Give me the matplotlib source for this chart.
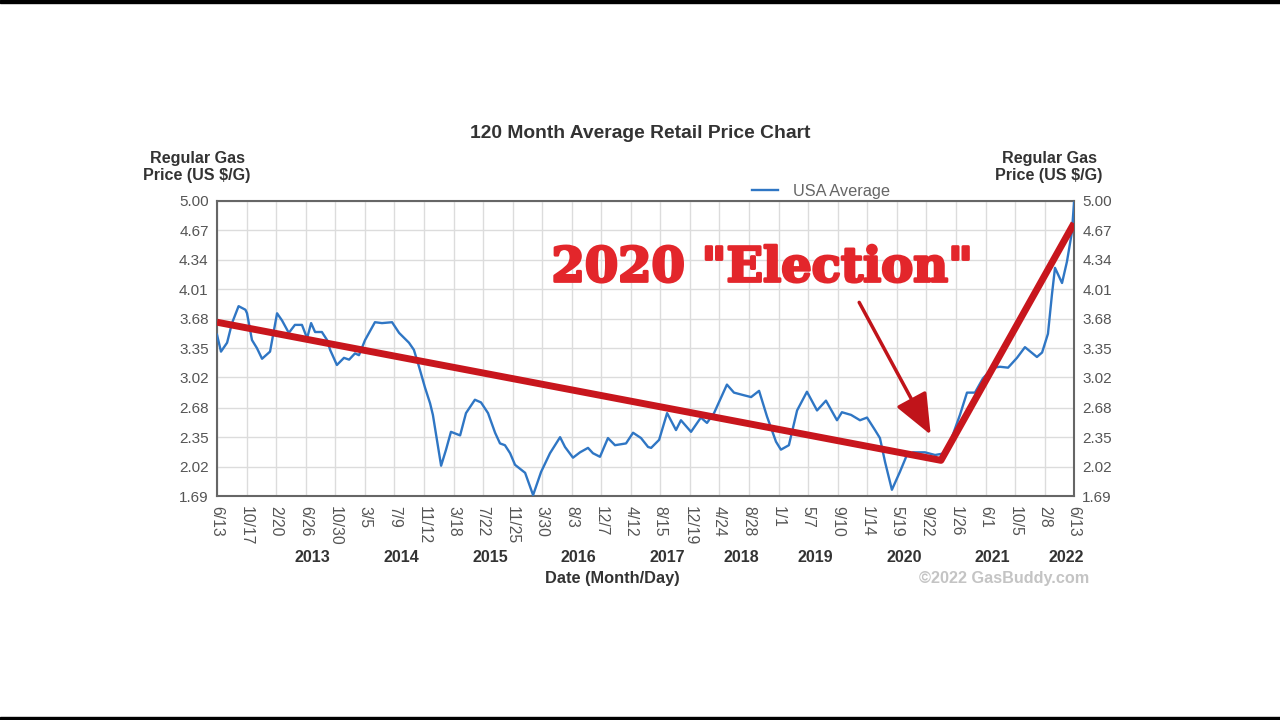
import numpy as np
import matplotlib
matplotlib.use('Agg')
import matplotlib.pyplot as plt
import matplotlib.dates as mdates
import matplotlib.patheffects as pe
from matplotlib.patches import Rectangle, FancyArrowPatch

plt.rcParams['font.family'] = ['Liberation Sans', 'DejaVu Sans']

# USA average regular gas price
dates = ['2012-06-13', '2012-06-30', '2012-07-26', '2012-08-16', '2012-09-13', '2012-10-12',
         '2012-10-19', '2012-11-09', '2012-11-30', '2012-12-22', '2013-01-25', '2013-02-24',
         '2013-03-17', '2013-04-15', '2013-05-11', '2013-06-10', '2013-07-02', '2013-07-19',
         '2013-08-05', '2013-09-03', '2013-09-25', '2013-10-08', '2013-11-06', '2013-12-06',
         '2013-12-28', '2014-01-22', '2014-02-08', '2014-03-06', '2014-04-17', '2014-05-17',
         '2014-06-29', '2014-07-29', '2014-09-09', '2014-09-30', '2014-10-22', '2014-11-16',
         '2014-12-08', '2014-12-20', '2015-01-24', '2015-02-14', '2015-03-07', '2015-04-15',
         '2015-05-10', '2015-06-17', '2015-07-13', '2015-08-12', '2015-09-11', '2015-10-02',
         '2015-10-23', '2015-11-14', '2015-12-05', '2016-01-17', '2016-02-20', '2016-03-25',
         '2016-05-02', '2016-06-14', '2016-07-05', '2016-08-08', '2016-09-07', '2016-10-11',
         '2016-11-01', '2016-12-01', '2017-01-04', '2017-02-03', '2017-03-22', '2017-04-21',
         '2017-05-25', '2017-06-24', '2017-07-07', '2017-08-10', '2017-09-13', '2017-10-21',
         '2017-11-11', '2017-12-24', '2018-02-04', '2018-03-02', '2018-04-01', '2018-05-26',
         '2018-06-25', '2018-08-07', '2018-09-06', '2018-10-10', '2018-11-13', '2018-12-21',
         '2019-01-11', '2019-02-14', '2019-03-21', '2019-05-02', '2019-06-14', '2019-07-22',
         '2019-09-07', '2019-09-28', '2019-11-06', '2019-12-14', '2020-01-13', '2020-02-16',
         '2020-03-08', '2020-03-30', '2020-04-28', '2020-06-01', '2020-07-01', '2020-07-27',
         '2020-09-16', '2020-10-29', '2020-12-10', '2021-01-09', '2021-02-12', '2021-03-14',
         '2021-04-17', '2021-05-21', '2021-07-03', '2021-08-02', '2021-09-05', '2021-10-13',
         '2021-11-16', '2022-01-06', '2022-01-28', '2022-02-22', '2022-03-11', '2022-03-24',
         '2022-04-23', '2022-05-14', '2022-06-04', '2022-06-13']
prices = [3.50, 3.31, 3.41, 3.63, 3.82, 3.78,
          3.74, 3.44, 3.35, 3.23, 3.31, 3.74,
          3.66, 3.52, 3.61, 3.61, 3.46, 3.63,
          3.53, 3.53, 3.44, 3.33, 3.16, 3.24,
          3.22, 3.29, 3.27, 3.44, 3.64, 3.63,
          3.64, 3.52, 3.41, 3.33, 3.14, 2.91,
          2.73, 2.60, 2.03, 2.21, 2.41, 2.37,
          2.62, 2.77, 2.74, 2.62, 2.40, 2.28,
          2.26, 2.17, 2.04, 1.95, 1.70, 1.96,
          2.17, 2.35, 2.24, 2.12, 2.18, 2.23,
          2.17, 2.13, 2.34, 2.26, 2.28, 2.40,
          2.34, 2.24, 2.23, 2.32, 2.62, 2.43,
          2.54, 2.41, 2.57, 2.51, 2.62, 2.94,
          2.85, 2.82, 2.80, 2.87, 2.58, 2.30,
          2.21, 2.26, 2.65, 2.86, 2.65, 2.76,
          2.54, 2.63, 2.60, 2.54, 2.57, 2.43,
          2.34, 2.07, 1.76, 1.96, 2.15, 2.18,
          2.18, 2.15, 2.17, 2.35, 2.60, 2.85,
          2.85, 3.01, 3.13, 3.14, 3.13, 3.24,
          3.36, 3.25, 3.30, 3.51, 3.95, 4.25,
          4.08, 4.32, 4.65, 4.98]

# red trend lines drawn over the chart
trend_dates = ['2012-06-13', '2020-11-23', '2022-06-13']
trend_prices = [3.64, 2.09, 4.75]

tick_dates = ['2012-06-13', '2012-10-17', '2013-02-20', '2013-06-26', '2013-10-30', '2014-03-05',
              '2014-07-09', '2014-11-12', '2015-03-18', '2015-07-22', '2015-11-25', '2016-03-30',
              '2016-08-03', '2016-12-07', '2017-04-12', '2017-08-15', '2017-12-19', '2018-04-24',
              '2018-08-28', '2019-01-01', '2019-05-07', '2019-09-10', '2020-01-14', '2020-05-19',
              '2020-09-22', '2021-01-26', '2021-06-01', '2021-10-05', '2022-02-08', '2022-06-13']
years = [2013, 2014, 2015, 2016, 2017, 2018, 2019, 2020, 2021, 2022]
y_ticks = [1.69, 2.02, 2.35, 2.68, 3.02, 3.35, 3.68, 4.01, 4.34, 4.67, 5.00]

x = mdates.date2num(np.array(dates, dtype='datetime64[D]'))
tx = mdates.date2num(np.array(tick_dates, dtype='datetime64[D]'))
rx = mdates.date2num(np.array(trend_dates, dtype='datetime64[D]'))

fig = plt.figure(figsize=(12.8, 7.2), dpi=100)
ax = fig.add_axes([217 / 1280, 1 - 496 / 720, 857 / 1280, 295 / 720])

ax.plot(x, prices, color='#2f76c4', lw=1.7, label='USA Average', zorder=3)
ax.plot(rx, trend_prices, color='#c8161d', lw=5, solid_capstyle='butt', zorder=4)

ax.set_xlim(tx[0], tx[-1])
ax.set_ylim(1.69, 5.00)
ax.set_yticks(y_ticks)
ax.set_yticklabels(['%.2f' % v for v in y_ticks])
ax.set_xticks(tx)
ax.set_xticklabels([f'{d.month}/{d.day}' for d in mdates.num2date(tx)], rotation=-90)
ax.tick_params(axis='y', length=0, labelsize=11, labelcolor='#555555', pad=6,
               labelleft=True, labelright=True)
ax.tick_params(axis='x', length=0, labelsize=11.3, labelcolor='#555555', pad=7)
ax.grid(True, color='#dcdcdc', lw=1)
ax.set_axisbelow(True)
for s in ax.spines.values():
    s.set_color('#666666')
    s.set_linewidth(1.5)

# year labels under the month/day ticks
tick_years = np.array([d.year for d in mdates.num2date(tx[:-1])] + [2022])
for yr in years:
    xm = tx[tick_years == yr].mean() + 30
    ax.text(xm, -0.21, str(yr), transform=ax.get_xaxis_transform(), ha='center',
            va='center', fontsize=11.5, fontweight='bold', color='#333333')

ax.legend(loc='lower right', bbox_to_anchor=(0.793, 0.985), frameon=False, fontsize=11.8,
          labelcolor='#666666', handlelength=1.6, handletextpad=0.9, borderaxespad=0)

fig.text(0.5, 1 - 133 / 720, '120 Month Average Retail Price Chart', ha='center', va='center',
         fontsize=13.9, fontweight='bold', color='#333333')
fig.text(197 / 1280, 1 - 167 / 720, 'Regular Gas\nPrice (US $/G)', ha='center', va='center',
         fontsize=11.6, fontweight='bold', color='#333333', linespacing=1.2)
fig.text(1049 / 1280, 1 - 167 / 720, 'Regular Gas\nPrice (US $/G)', ha='center', va='center',
         fontsize=11.6, fontweight='bold', color='#333333', linespacing=1.2)
fig.text(612 / 1280, 1 - 578 / 720, 'Date (Month/Day)', ha='center', va='center',
         fontsize=11.8, fontweight='bold', color='#333333')
fig.text(1004 / 1280, 1 - 579 / 720, '\u00a92022 GasBuddy.com', ha='center', va='center',
         fontsize=11.7, fontweight='bold', color='#c4c4c4')

fig.text(762 / 1280, 1 - 268 / 720, '2020 "Election"', ha='center', va='center',
         fontsize=34.5, fontweight='bold', family='DejaVu Serif', color='#e3262b',
         path_effects=[pe.withStroke(linewidth=2.0, foreground='#e3262b')])

arrow = FancyArrowPatch((mdates.date2num(np.datetime64('2019-12-05')), 3.89),
                        (mdates.date2num(np.datetime64('2020-10-16')), 2.35),
                        arrowstyle='-|>,head_length=1.8,head_width=0.75', mutation_scale=14,
                        color='#c0141a', lw=2.5, zorder=5)
ax.add_patch(arrow)

# thin black bars at top and bottom edge of the frame
fig.add_artist(Rectangle((0, 1 - 3 / 720), 1, 3 / 720, transform=fig.transFigure,
                         color='black', zorder=10))
fig.add_artist(Rectangle((0, 0), 1, 3 / 720, transform=fig.transFigure,
                         color='black', zorder=10))

fig.savefig('out.png', dpi=100)
